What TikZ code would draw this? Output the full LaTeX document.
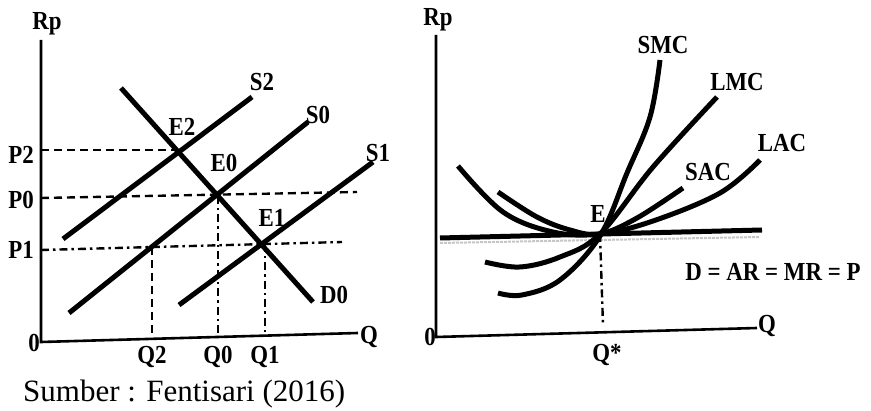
\documentclass[tikz,border=0pt]{standalone}
\usepackage{fontspec}
\setmainfont{Liberation Serif}
\newfontfamily\lab[FakeStretch=0.88]{Liberation Serif Bold}
\begin{document}
\begin{tikzpicture}[x=1pt,y=-1pt,
  lbl/.style={font=\lab\fontsize{26}{26}\selectfont, inner sep=0pt},
  curve/.style={line width=5pt},
  axis/.style={line width=2.6pt},
  dsh/.style={line width=2.4pt, dash pattern=on 8pt off 5pt},
  dshdot/.style={line width=2.4pt, dash pattern=on 8pt off 4pt on 2.5pt off 4pt}]
\useasboundingbox (0,0) rectangle (871,411);
% ---------- left graph ----------
\coordinate (yt) at (41,40);
\coordinate (o1) at (41,342);
\coordinate (xe) at (358,333);
\draw[axis] (yt) -- (o1) -- (xe);
\node[lbl] (rp1) at (47,24) {Rp};
\node[lbl] (z1) at (34,343) {0};
\node[lbl] (q1ax) at (369,337) {Q};
% points
\coordinate (E2) at (178,150);
\coordinate (E0) at (218,196);
\coordinate (E1) at (264,244);
\coordinate (p2s) at (41,150);
\coordinate (p0s) at (41,198);
\coordinate (p0e) at (357,192);
\coordinate (p1s) at (41,250);
\coordinate (p1e) at (342,242);
\coordinate (q2t) at (152,247);
\coordinate (q2b) at (152,335);
\coordinate (q0b) at (218,335);
\coordinate (q1t) at (265,244);
\coordinate (q1b) at (265,335);
\draw[dsh] (p2s) -- (E2);
\draw[dsh] (p0s) -- (p0e);
\draw[dshdot] (p1s) -- (p1e);
\draw[dsh] (q2t) -- (q2b);
\draw[dshdot] (E0) -- (q0b);
\draw[dshdot] (q1t) -- (q1b);
% curves
\coordinate (d0a) at (121,88);
\coordinate (d0b) at (313,302);
\coordinate (s2a) at (63,239);
\coordinate (s2b) at (252,97);
\coordinate (s0a) at (69,313);
\coordinate (s0b) at (308,122);
\coordinate (s1a) at (179,305);
\coordinate (s1b) at (373,162);
\draw[curve] (d0a) -- (d0b);
\draw[curve] (s2a) -- (s2b);
\draw[curve] (s0a) -- (s0b);
\draw[curve] (s1a) -- (s1b);
\node[lbl] (lS2) at (262,82) {S2};
\node[lbl] (lS0) at (318,115) {S0};
\node[lbl] (lS1) at (378,153) {S1};
\node[lbl] (lD0) at (334,295) {D0};
\node[lbl] (lE2) at (182,127) {E2};
\node[lbl] (lE0) at (224,163) {E0};
\node[lbl] (lE1) at (272,218) {E1};
\node[lbl] (lP2) at (21,155) {P2};
\node[lbl] (lP0) at (21,200) {P0};
\node[lbl] (lP1) at (21,250) {P1};
\node[lbl] (lQ2) at (152,357) {Q2};
\node[lbl] (lQ0) at (218,357) {Q0};
\node[lbl] (lQ1) at (265,357) {Q1};
\node[anchor=base west, inner sep=0pt, font=\fontsize{31}{31}\selectfont] (src) at (23,402) {Sumber : Fentisari (2016)};
% ---------- right graph ----------
\coordinate (yt2) at (436,35);
\coordinate (o2) at (436,337);
\coordinate (xe2) at (757,328);
\draw[axis] (yt2) -- (o2) -- (xe2);
\node[lbl] (rp2) at (438,20) {Rp};
\node[lbl] (z2) at (430,337) {0};
\node[lbl] (q2ax) at (767,326) {Q};
\coordinate (ha) at (440,238);
\coordinate (hb) at (762,230);
\coordinate (ga) at (440,243);
\coordinate (gb) at (760,237);
\draw[line width=2pt, gray!45, dash pattern=on 3pt off 1pt] (ga) -- (gb);
\draw[curve] (ha) -- (hb);
\coordinate (E) at (600,234);
\coordinate (qs) at (603,325);
\draw[dshdot] (E) -- (qs);
% LAC
\draw[curve] plot[smooth, tension=0.6] coordinates {(458,166) (503,212) (553,232) (600,234) (653,221) (720,193) (760,160)};
% SAC
\draw[curve] plot[smooth, tension=0.6] coordinates {(498,192) (537,217) (570,230) (600,234) (637,218) (683,188)};
% LMC
\draw[curve] plot[smooth, tension=0.6] coordinates {(485,262) (520,267) (560,257) (600,234) (653,167) (717,97)};
% SMC
\draw[curve] plot[smooth, tension=0.6] coordinates {(498,293) (522,295) (560,280) (600,236) (627,173) (650,117) (660,60)};
\node[lbl] (lSMC) at (663,45) {SMC};
\node[lbl] (lLMC) at (737,82) {LMC};
\node[lbl] (lLAC) at (782,143) {LAC};
\node[lbl] (lSAC) at (708,172) {SAC};
\node[lbl] (lE) at (598,214) {E};
\node[lbl] (lD) at (773,272) {D = AR = MR = P};
\node[lbl] (lQs) at (607,355) {Q*};
\end{tikzpicture}
\end{document}
